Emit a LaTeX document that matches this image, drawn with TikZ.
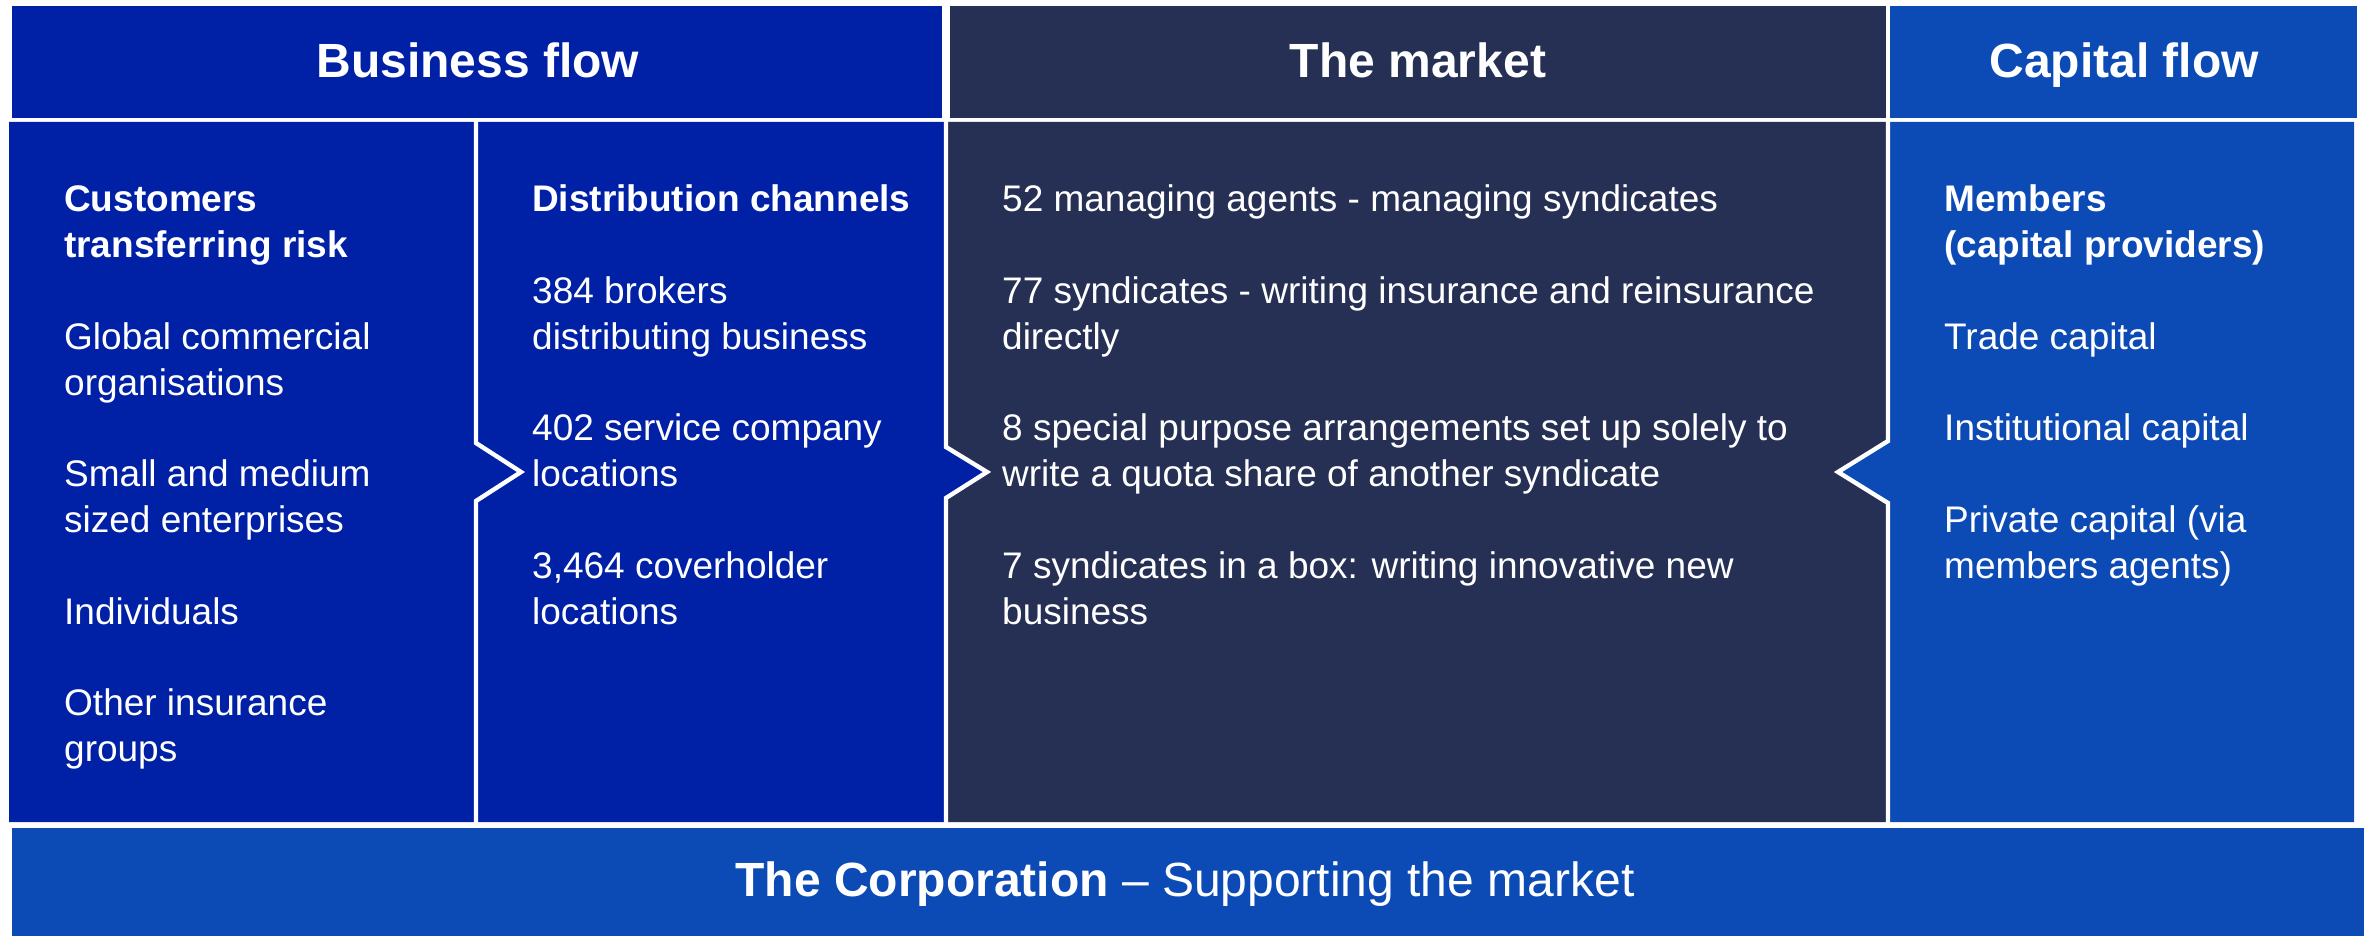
\documentclass[tikz,border=0pt]{standalone}
\usepackage{fontspec}
\setmainfont{Liberation Sans}
\definecolor{bizblue}{RGB}{0,33,165}
\definecolor{mktnavy}{RGB}{38,47,84}
\definecolor{capblue}{RGB}{12,74,182}
\begin{document}
\begin{tikzpicture}[x=1pt,y=-1pt,
  gapline/.style={draw=white,line width=4.4pt,line join=miter},
  headtxt/.style={text=white,font=\fontsize{48}{56}\selectfont\bfseries,anchor=base,inner sep=0pt},
  coltxt/.style={text=white,font=\fontsize{37}{45.8}\selectfont,align=left,anchor=north west,inner sep=0pt}]
\useasboundingbox (0,0) rectangle (2364,936);
\fill[white] (0,0) rectangle (2364,936);
% headers
\fill[bizblue] (12,6) rectangle (942,118);
\fill[mktnavy] (950,6) rectangle (1886,118);
\fill[capblue] (1890,6) rectangle (2357,118);
% body
\fill[bizblue] (9,122) -- (946,122) -- (946,447) -- (987,472) -- (946,498) -- (946,822) -- (9,822) -- cycle;
\fill[mktnavy] (946,122) -- (1888,122) -- (1888,441) -- (1838,472) -- (1888,503) -- (1888,822) -- (946,822) -- (946,498) -- (987,472) -- (946,447) -- cycle;
\fill[capblue] (1888,122) -- (2354,122) -- (2354,822) -- (1888,822) -- (1888,503) -- (1838,472) -- (1888,441) -- cycle;
% white separators with chevrons
\draw[gapline] (476,120) -- (476,443) -- (521,472) -- (476,501) -- (476,824);
\draw[gapline] (946,120) -- (946,447) -- (987,472) -- (946,498) -- (946,824);
\draw[gapline] (1888,120) -- (1888,441) -- (1838,472) -- (1888,503) -- (1888,824);
% corporation bar
\fill[capblue] (12,828) rectangle (2364,936);
% header texts
\node[headtxt] (hbiz) at (478,77.5) {Business flow};
\node[headtxt] (hmkt) at (1418,77.5) {The market};
\node[headtxt] (hcap) at (2124,77.5) {Capital flow};
% column texts
\node[coltxt] (cust) at (64,175.7) {\rule{0pt}{36pt}\textbf{Customers}\\ \textbf{transferring risk}\\[45.8pt]
  Global commercial\\ organisations\\[45.8pt]
  Small and medium\\ sized enterprises\\[45.8pt]
  Individuals\\[45.8pt]
  Other insurance\\ groups};
\node[coltxt] (dist) at (532,175.7) {\rule{0pt}{36pt}\textbf{Distribution channels}\\[45.8pt]
  384 brokers\\ distributing business\\[45.8pt]
  402 service company\\ locations\\[45.8pt]
  3,464 coverholder\\ locations};
\node[coltxt] (mkt) at (1002,175.7) {\rule{0pt}{36pt}52 managing agents - managing syndicates\\[45.8pt]
  77 syndicates - writing insurance and reinsurance\\ directly\\[45.8pt]
  8 special purpose arrangements set up solely to\\ write a quota share of another syndicate\\[45.8pt]
  7 syndicates in a box: writing innovative new\\ business};
\node[coltxt] (cap) at (1944,175.7) {\rule{0pt}{36pt}\textbf{Members}\\ \textbf{(capital providers)}\\[45.8pt]
  Trade capital\\[45.8pt]
  Institutional capital\\[45.8pt]
  Private capital (via\\ members agents)};
% corporation text
\node[text=white,font=\fontsize{48}{56}\selectfont,anchor=base,inner sep=0pt] (corp) at (1185,896.5) {\textbf{The Corporation} -- Supporting the market};
\end{tikzpicture}
\end{document}
